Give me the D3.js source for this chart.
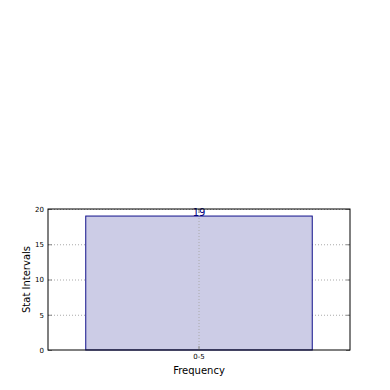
<!DOCTYPE html>
<html>
<head>
<meta charset="utf-8">
<script src="https://cdn.jsdelivr.net/npm/d3@7"></script>
<style>
body { margin: 0; background: #fff; }
text { font-family: "DejaVu Sans", sans-serif; }
</style>
</head>
<body>
<div id="chart"></div>
<script>
var categories = ["0-5"];
var counts = [19];
var yTicks = [0, 5, 10, 15, 20];

var margin = { top: 209, right: 40, bottom: 40, left: 48 };
var width = 390 - margin.left - margin.right;
var height = 350 - margin.top;

var svg = d3.select("#chart").append("svg")
    .attr("width", 390)
    .attr("height", 390);

var g = svg.append("g")
    .attr("transform", "translate(" + margin.left + "," + margin.top + ")");

var xScale = d3.scaleBand()
    .domain(categories)
    .range([0, width])
    .paddingInner(0.25)
    .paddingOuter(0.125);

var yScale = d3.scaleLinear()
    .domain([0, 20])
    .range([height, 0]);

// grid
g.selectAll(".hgrid").data(yTicks.slice(1)).enter().append("line")
    .attr("x1", 0).attr("x2", width)
    .attr("y1", function(d) { return yScale(d) + 0.5; })
    .attr("y2", function(d) { return yScale(d) + 0.5; })
    .attr("stroke", "#aaa").attr("stroke-dasharray", "1,2");

// bars
g.selectAll(".bar").data(counts).enter().append("rect")
    .attr("x", function(d, i) { return xScale(categories[i]); })
    .attr("y", function(d) { return yScale(d); })
    .attr("width", xScale.bandwidth())
    .attr("height", function(d) { return height - yScale(d); })
    .attr("fill", "#cccce6")
    .attr("stroke", "#10108a")
    .attr("stroke-width", 1);

g.selectAll(".vgrid").data(categories).enter().append("line")
    .attr("x1", function(d) { return xScale(d) + xScale.bandwidth() / 2; })
    .attr("x2", function(d) { return xScale(d) + xScale.bandwidth() / 2; })
    .attr("y1", 0).attr("y2", height)
    .attr("stroke", "#aaa").attr("stroke-dasharray", "1,2");

// value labels
g.selectAll(".val").data(counts).enter().append("text")
    .attr("x", function(d, i) { return xScale(categories[i]) + xScale.bandwidth() / 2; })
    .attr("y", function(d) { return yScale(d); })
    .attr("text-anchor", "middle")
    .attr("font-size", "10px")
    .attr("fill", "#000080")
    .text(function(d) { return d; });

// axes
var yAxis = d3.axisLeft(yScale).tickValues(yTicks).tickSizeInner(-4).tickSizeOuter(0).tickPadding(4);
var yAxisR = d3.axisRight(yScale).tickValues(yTicks).tickSizeInner(-4).tickSizeOuter(0).tickFormat("");
var xAxis = d3.axisBottom(xScale).tickSizeInner(-4).tickSizeOuter(0).tickPadding(4);
var xAxisT = d3.axisTop(xScale).tickSizeInner(-4).tickSizeOuter(0).tickFormat("");

var ya = g.append("g").call(yAxis);
var yr = g.append("g").attr("transform", "translate(" + width + ",0)").call(yAxisR);
var xa = g.append("g").attr("transform", "translate(0," + height + ")").call(xAxis);
var xt = g.append("g").call(xAxisT);

[ya, yr, xa, xt].forEach(function(a) {
    a.select(".domain").remove();
    a.selectAll(".tick line").attr("stroke", "#888");
    a.selectAll("text").attr("font-size", "7px").attr("fill", "#000")
        .attr("font-family", "DejaVu Sans, sans-serif");
});

g.append("rect")
    .attr("x", 0).attr("y", 0)
    .attr("width", width).attr("height", height)
    .attr("fill", "none").attr("stroke", "#000").attr("stroke-width", 1);

svg.append("text")
    .attr("x", margin.left + width / 2)
    .attr("y", 374)
    .attr("text-anchor", "middle")
    .attr("font-size", "10px")
    .text("Frequency");

svg.append("text")
    .attr("transform", "translate(30," + (margin.top + height / 2) + ") rotate(-90)")
    .attr("text-anchor", "middle")
    .attr("font-size", "10px")
    .text("Stat Intervals");
</script>
</body>
</html>
